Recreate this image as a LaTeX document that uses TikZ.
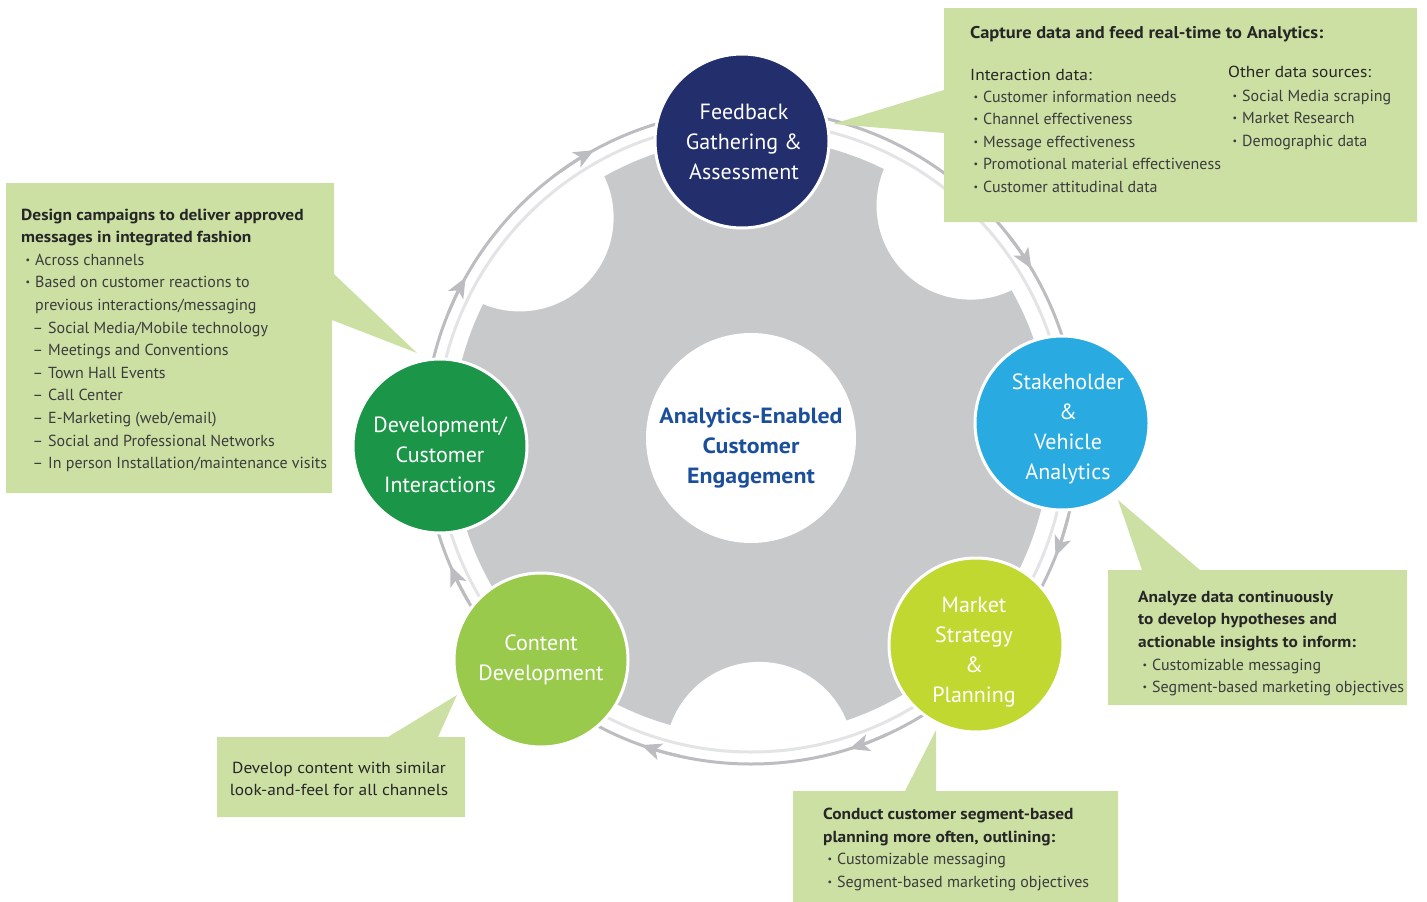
\documentclass[tikz,border=0pt]{standalone}
\usepackage{fontspec}
\setmainfont{PT Sans}
\newfontfamily\headfont{PT Sans}[FakeStretch=1.085]
\usetikzlibrary{arrows.meta}

\definecolor{gearGray}{HTML}{C8C9CB}
\definecolor{ringOuter}{HTML}{BCBDC0}
\definecolor{ringInner}{HTML}{E3E4E5}
\definecolor{navy}{HTML}{232F6C}
\definecolor{skyblue}{HTML}{29ABE2}
\definecolor{lime}{HTML}{C1D831}
\definecolor{leaf}{HTML}{99CA4B}
\definecolor{forest}{HTML}{1B9547}
\definecolor{callout}{HTML}{CCE0A4}
\definecolor{titleBlue}{HTML}{1C4F9A}
\definecolor{headText}{HTML}{262626}
\definecolor{bodyText}{HTML}{3C3C3C}

% list markers hung to the left of the text start
\newcommand\bul{\llap{\raisebox{2pt}{\fontsize{10}{10}\selectfont\textbullet}\hspace{5pt}}}
\newcommand\dsh{\llap{–\hspace{5pt}}}

\begin{document}
\begin{tikzpicture}[x=1pt,y=-1pt,
  stage/.style={circle, draw=white, line width=3pt, minimum size=174pt, inner sep=0pt},
  stagetext/.style={text=white, font=\fontsize{22}{30}\selectfont, anchor=base, inner sep=0pt},
  hubtext/.style={text=titleBlue, font=\headfont\fontsize{22}{30}\selectfont\bfseries, anchor=base, inner sep=0pt},
  head/.style={font=\headfont\fontsize{16}{22}\selectfont\bfseries, text=headText, anchor=base west, inner sep=0pt},
  sub/.style={font=\headfont\fontsize{16}{22}\selectfont, text=headText, anchor=base west, inner sep=0pt},
  body/.style={font=\fontsize{16}{22}\selectfont, text=bodyText, anchor=base west, inner sep=0pt},
  flow/.style={draw=ringOuter, line width=3pt, -{Stealth[length=20pt,width=17pt,inset=5pt]}},
  bubble/.style={fill=callout}
]
\useasboundingbox (0,0) rectangle (1427,902);
\coordinate (hub) at (751,437);

% gear body with its three open tooth gaps
\fill[gearGray] (hub) circle[radius=299];
\foreach \a in {88.5,223.5,313.5}
  \fill[white] ([shift={(hub)}]\a:319) circle[radius=94];

% centre disc
\node[circle, fill=white, minimum size=210pt, inner sep=0pt] (core) at (751,438) {};
\foreach \s [count=\k from 0] in {Analytics-Enabled, Customer, Engagement}
  \node[hubtext] (core-\k) at (751,{423+30*\k}) {\s};

% cycle rings with clockwise flow arrows
\draw[ringInner, line width=3pt] (hub) circle[radius=315];
\draw[ringOuter, line width=3pt] (hub) circle[radius=327];
\foreach \t in {21.4,72.5,109.6,156.8,209.2,241.3,329}{
  \pgfmathsetmacro\s{\t-7}
  \draw[flow] ([shift={(hub)}]\s:327) arc[start angle=\s, end angle=\t, radius=327];
}

% callout bubbles
\fill[bubble] (944,8) -- (1417,8) -- (1417,222) -- (944,222) -- (944,133) -- (833,124) -- (944,90) -- cycle;
\fill[bubble] (6,183) -- (334,183) -- (334,274) -- (417,353) -- (332,320) -- (332,493) -- (6,493) -- cycle;
\fill[bubble] (1108,570) -- (1142,570) -- (1118,500) -- (1200,570) -- (1407,570) -- (1407,705) -- (1108,705) -- cycle;
\fill[bubble] (793,791) -- (905,791) -- (936,730) -- (936,791) -- (1118,791) -- (1118,902) -- (793,902) -- cycle;
\fill[bubble] (217,737) -- (388,737) -- (457,695) -- (438,737) -- (465,737) -- (465,817) -- (217,817) -- cycle;

% capture data
\node[head, font=\headfont\fontsize{17}{22}\selectfont\bfseries] (cap-h) at (970,38) {Capture data and feed real-time to Analytics:};
\node[sub] (cap-l) at (970,80) {Interaction data:};
\node[sub] (cap-r) at (1228,77) {Other data sources:};
\foreach \s [count=\k from 0] in {Customer information needs, Channel effectiveness, Message effectiveness, Promotional material effectiveness, Customer attitudinal data}
  \node[body] (cap-l\k) at (983,{102+22.5*\k}) {\bul\s};
\foreach \s [count=\k from 0] in {Social Media scraping, Market Research, Demographic data}
  \node[body] (cap-r\k) at (1242,{101+22.5*\k}) {\bul\s};

% campaign design
\node[head] (des-h0) at (21,220) {Design campaigns to deliver approved};
\node[head] (des-h1) at (21,242) {messages in integrated fashion};
\node[body] (des-b0) at (35,265) {\bul Across channels};
\node[body] (des-b1) at (35,287) {\bul Based on customer reactions to};
\node[body] (des-b2) at (35,310) {previous interactions/messaging};
\foreach \s [count=\k from 0] in {Social Media/Mobile technology, Meetings and Conventions, Town Hall Events, Call Center, E-Marketing (web/email), Social and Professional Networks, In person Installation/maintenance visits}
  \node[body] (des-d\k) at (48,{333+22.6*\k}) {\dsh\s};

% analysis
\foreach \s [count=\k from 0] in {Analyze data continuously, to develop hypotheses and, actionable insights to inform:}
  \node[head] (ana-h\k) at (1138,{602+22.5*\k}) {\s};
\foreach \s [count=\k from 0] in {Customizable messaging, Segment-based marketing objectives}
  \node[body] (ana-b\k) at (1152,{670+22.5*\k}) {\bul\s};

% planning
\foreach \s [count=\k from 0] in {Conduct customer segment-based, {planning more often, outlining:}}
  \node[head] (pla-h\k) at (823,{819+23*\k}) {\s};
\foreach \s [count=\k from 0] in {Customizable messaging, Segment-based marketing objectives}
  \node[body] (pla-b\k) at (837,{864+23*\k}) {\bul\s};

% content
\foreach \s [count=\k from 0] in {Develop content with similar, look-and-feel for all channels}
  \node[sub, anchor=base] (con-\k) at (339,{773+22.5*\k}) {\s};

% stages of the cycle
\node[stage, fill=navy] (fb) at (742,141) {};
\foreach \s [count=\k from 0] in {Feedback, Gathering \&, Assessment}
  \node[stagetext] (fb-\k) at (744,{119+30*\k}) {\s};

\node[stage, fill=skyblue] (sv) at (1062,423) {};
\foreach \s [count=\k from 0] in {Stakeholder, \&, Vehicle, Analytics}
  \node[stagetext] (sv-\k) at (1068,{389+30*\k}) {\s};

\node[stage, fill=lime] (ms) at (976,645) {};
\foreach \s [count=\k from 0] in {Market, Strategy, \&, Planning}
  \node[stagetext] (ms-\k) at (974,{612+30*\k}) {\s};

\node[stage, fill=leaf] (cd) at (541,660) {};
\foreach \s [count=\k from 0] in {Content, Development}
  \node[stagetext] (cd-\k) at (541,{650+30*\k}) {\s};

\node[stage, fill=forest] (ci) at (440,446) {};
\foreach \s [count=\k from 0] in {Development/, Customer, Interactions}
  \node[stagetext] (ci-\k) at (440,{432+30*\k}) {\s};
\end{tikzpicture}
\end{document}
